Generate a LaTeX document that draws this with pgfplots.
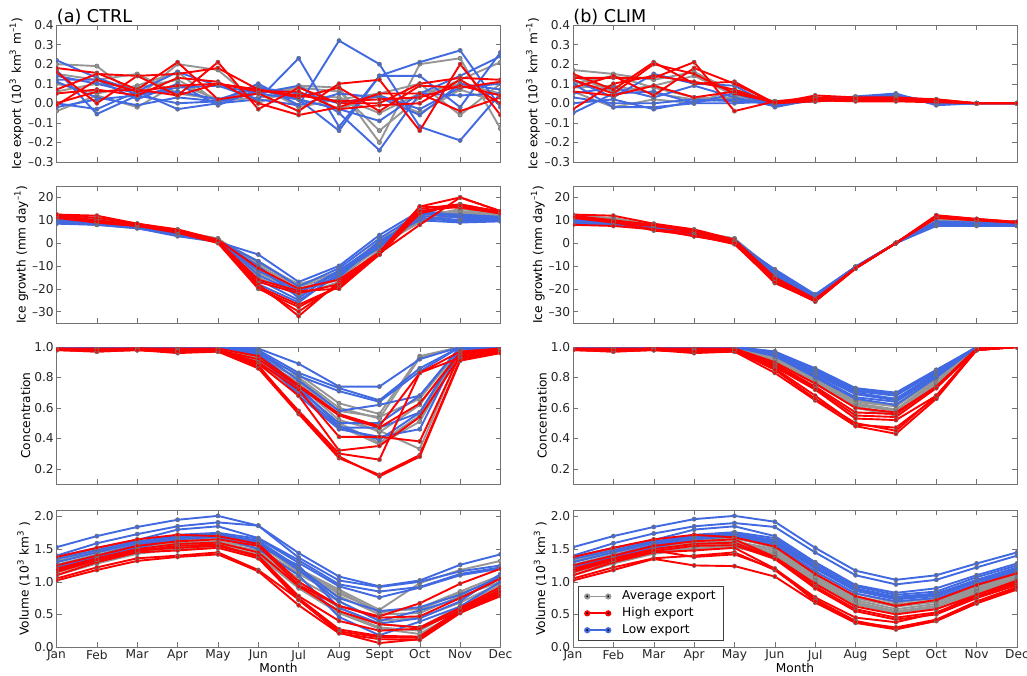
\documentclass[border=0pt]{standalone}
\usepackage{fontspec}
\setmainfont{DejaVu Sans}
\usepackage{pgfplots}
\pgfplotsset{compat=1.18}
\definecolor{avgc}{RGB}{150,150,150}
\definecolor{hic}{RGB}{255,0,0}
\definecolor{loc}{RGB}{65,105,225}
\newcount\mlc
\newcommand\ml[2]{%
  \def\acc{}\mlc=0
  \pgfplotsforeachungrouped \mlv in {#2}{\edef\acc{\acc(\the\mlc,\mlv)}\advance\mlc by 1 }%
  \edef\tmp{\noexpand\addplot[#1,forget plot] coordinates {\acc};}\tmp}
\newcommand\fs{\fontsize{6.1}{7.3}\selectfont}
\pgfplotsset{
  gr/.style={draw=avgc, line width=0.95pt, mark=*, mark size=1.05pt, mark options={fill=avgc, draw=black!55, line width=0.3pt, solid}},
  rd/.style={draw=hic, line width=0.95pt, mark=*, mark size=1.05pt, mark options={fill=hic, draw=black!55, line width=0.3pt, solid}},
  bl/.style={draw=loc, line width=0.95pt, mark=*, mark size=1.05pt, mark options={fill=loc, draw=black!55, line width=0.3pt, solid}},
  base/.style={scale only axis, width=222pt, height=68.5pt, xmin=0, xmax=11,
    xtick={0,1,2,3,4,5,6,7,8,9,10,11}, xticklabels={},
    ticklabel style={font=\fs, text=black!85},
    yticklabel style={inner xsep=1.2pt},
    xticklabel style={inner ysep=1.2pt},
    label style={font=\fs},
    ylabel style={inner sep=0.6pt},
    axis line style={black!55}, tick style={black!55}, major tick length=2.5pt,
    clip marker paths=true},
  r1/.style={base, ymin=-0.3, ymax=0.4, ytick={-0.3,-0.2,-0.1,0,0.1,0.2,0.3,0.4},
    yticklabels={–0.3,–0.2,–0.1,0.0,0.1,0.2,0.3,0.4},
    ylabel={Ice export (10\textsuperscript{3} km\textsuperscript{3} m\textsuperscript{–1})},
    ylabel style={inner sep=1pt}},
  r2/.style={base, ymin=-35, ymax=25, ytick={-30,-20,-10,0,10,20},
    yticklabels={–30,–20,–10,0,10,20}, ylabel={Ice growth (mm day\textsuperscript{–1})}},
  r3/.style={base, ymin=0.1, ymax=1.0, ytick={0.2,0.4,0.6,0.8,1.0},
    yticklabels={0.2,0.4,0.6,0.8,1.0}, ylabel={Concentration}},
  r4/.style={base, ymin=0, ymax=2.1, ytick={0,0.5,1,1.5,2},
    yticklabels={0.0,0.5,1.0,1.5,2.0}, ylabel={Volume (10\textsuperscript{3}  km\textsuperscript{3} )},
    xticklabels={Jan,Feb,Mar,Apr,May,Jun,Jul,Aug,Sept,Oct,Nov,Dec}, xlabel={Month},
    xlabel style={inner sep=0.5pt, yshift=0.9pt}},
}
\begin{document}
\begin{tikzpicture}
% ---------- (a) CTRL : ice export ----------
\begin{axis}[r1, at={(28.25pt,256.5pt)}, anchor=south west, name=a1]
\ml{gr}{0.20,0.19,0.03,0.20,0.17,0.00,0.09,0.08,-0.20,0.20,0.23,-0.13}
\ml{gr}{0.15,0.12,0.15,0.05,0.02,0.06,0.08,0.06,-0.14,0.03,0.12,0.21}
\ml{gr}{0.10,0.05,0.09,0.16,0.00,0.09,-0.02,0.02,0.05,0.10,-0.06,0.10}
\ml{gr}{-0.04,0.04,-0.02,0.10,0.02,0.05,0.02,-0.03,0.04,-0.05,0.07,0.00}
\ml{gr}{0.06,0.10,0.08,0.12,0.01,0.03,0.04,0.03,-0.05,0.05,0.10,0.05}
\ml{bl}{0.22,0.13,0.06,0.16,0.09,0.02,0.23,-0.12,0.14,0.14,-0.02,0.26}
\ml{bl}{0.17,-0.055,0.04,0.00,0.01,0.10,-0.01,0.32,0.20,-0.12,-0.19,0.05}
\ml{bl}{0.12,0.12,0.02,0.10,-0.01,0.07,0.02,-0.14,0.14,0.21,0.27,-0.02}
\ml{bl}{0.11,0.03,-0.01,0.03,0.01,0.05,0.09,-0.05,-0.24,0.05,0.14,0.24}
\ml{bl}{0.00,-0.03,0.06,-0.03,0.00,0.02,-0.01,0.05,0.03,-0.06,0.10,0.07}
\ml{bl}{-0.02,0.02,0.04,0.08,0.09,0.05,0.02,-0.03,-0.09,0.05,0.04,0.05}
\ml{bl}{0.14,0.10,0.05,0.06,0.02,0.08,0.05,0.00,0.04,-0.03,0.08,0.10}
\ml{rd}{0.18,0.155,0.07,0.21,0.02,0.05,-0.04,0.10,0.12,-0.14,0.20,-0.06}
\ml{rd}{0.16,0.00,0.14,0.04,0.21,-0.03,0.08,0.00,0.00,0.10,0.13,0.12}
\ml{rd}{0.07,0.15,0.14,0.15,0.18,0.07,0.03,0.08,-0.04,0.09,0.08,0.11}
\ml{rd}{0.05,0.07,0.04,0.13,0.11,0.00,-0.06,-0.02,0.05,0.05,-0.04,0.03}
\ml{rd}{0.00,0.06,0.07,0.04,0.10,0.06,0.06,-0.03,-0.01,0.00,0.12,0.00}
\ml{rd}{-0.01,0.12,0.06,0.09,0.10,0.07,0.04,0.01,0.02,0.03,0.09,0.04}
\end{axis}
\node[anchor=base west, inner sep=0pt, font=\fontsize{8.8}{10}\selectfont] at ([yshift=1.4pt]a1.north west) {(a) CTRL};
% ---------- (b) CLIM : ice export ----------
\begin{axis}[r1, at={(286.5pt,256.5pt)}, anchor=south west, name=b1]
\ml{gr}{0.17,0.15,0.12,0.16,0.06,0.01,0.02,0.03,0.04,0.01,0.0,0.0}
\ml{gr}{0.10,0.14,0.08,0.03,0.02,0.00,0.025,0.03,0.035,0.00,0.0,0.0}
\ml{gr}{0.06,-0.02,0.02,0.00,0.07,0.005,0.015,0.02,0.03,0.005,0.0,0.0}
\ml{gr}{0.14,0.06,0.09,0.14,0.04,0.00,0.02,0.025,0.025,0.01,0.0,0.0}
\ml{gr}{0.08,0.09,0.05,0.02,0.03,-0.005,0.01,0.02,0.03,0.00,0.0,0.0}
\ml{bl}{0.12,0.03,0.15,0.10,0.09,-0.02,0.02,0.03,0.045,0.00,0.0,0.0}
\ml{bl}{-0.05,0.05,0.06,0.00,0.05,-0.01,0.015,0.035,0.05,-0.01,0.0,0.0}
\ml{bl}{0.03,0.00,0.00,0.02,0.01,0.00,0.02,0.025,0.04,0.00,0.0,0.0}
\ml{bl}{0.10,-0.02,-0.02,0.00,0.00,0.01,0.01,0.02,0.03,0.005,0.0,0.0}
\ml{bl}{0.05,0.08,0.03,0.09,0.03,-0.015,0.02,0.03,0.035,-0.005,0.0,0.0}
\ml{bl}{0.00,0.02,-0.03,0.01,0.02,0.005,0.015,0.02,0.025,0.00,0.0,0.0}
\ml{rd}{0.15,0.07,0.21,0.10,0.11,0.00,0.04,0.03,0.03,0.02,0.0,0.0}
\ml{rd}{0.13,0.13,0.13,0.21,-0.04,0.01,0.03,0.02,0.02,0.015,0.0,0.0}
\ml{rd}{0.08,0.14,0.04,0.18,0.10,0.00,0.02,0.015,0.015,0.01,0.0,0.0}
\ml{rd}{0.12,0.05,0.20,0.15,0.05,0.005,0.015,0.01,0.01,0.005,0.0,0.0}
\ml{rd}{-0.03,0.10,0.14,0.11,0.07,0.00,0.01,0.02,0.025,0.01,0.0,0.0}
\ml{rd}{0.06,0.04,0.09,0.03,0.06,0.005,0.02,0.025,0.02,0.02,0.0,0.0}
\end{axis}
\node[anchor=base west, inner sep=0pt, font=\fontsize{8.8}{10}\selectfont] at ([yshift=1.4pt]b1.north west) {(b) CLIM};
% ---------- (a) ice growth ----------
\begin{axis}[r2, at={(28.25pt,176pt)}, anchor=south west]
\ml{gr}{11,10,7.5,4.5,1.5,-9,-18,-13,1,12,14,12.5}
\ml{gr}{11.5,10.5,8,5,2,-12,-20,-15,-2,10,13,12}
\ml{gr}{10.5,10,7.5,4.5,1.5,-15,-23,-17,-3,11,15,13}
\ml{gr}{12,11,8,5,2,-10,-19,-14,0,13,14,12.5}
\ml{gr}{10,9.5,7,4,1,-13,-21,-16,-1,9,12.5,11.5}
\ml{gr}{11,10.5,8,5,1.5,-8,-18.5,-12.5,0.5,11.5,13.5,12}
\ml{bl}{9,8,6.5,3,0.5,-5,-17,-10,3.5,14,12,11}
\ml{bl}{9.5,8.5,7,3.5,1,-8,-19,-11,2,13,11,10}
\ml{bl}{10,9,7,4,1.5,-14,-22,-12,0,12,10,10.5}
\ml{bl}{10.5,9,7.5,4.5,1,-16,-25,-14,-1,11,9.5,10}
\ml{bl}{11,9.5,8,5,1.5,-18,-26,-13,-2,13,12.5,11.5}
\ml{bl}{8.5,8,6.5,3.5,0.5,-12,-21,-15,1,10,9,9.5}
\ml{bl}{9.5,8.5,7,4,1,-10,-24,-12,-1.5,14.5,11.5,10.5}
\ml{rd}{12.5,12,8.5,6,1.5,-11,-20,-16,-4,16,20,14}
\ml{rd}{12,9.5,8,5.5,1,-17,-22,-18,-5,15,17,13.5}
\ml{rd}{11.5,9,7.5,5,0.5,-19,-27,-19,-5,14,16,13}
\ml{rd}{11,9,7.5,4.5,0,-20,-28,-19,-4.5,8,20,14}
\ml{rd}{12,10,8,5.5,0.5,-18,-32,-17,-5,13,17,13.5}
\ml{rd}{11.5,9.5,8,5,0.5,-19.5,-30,-18,-4,16,15.5,13}
\ml{rd}{12.5,11,8.5,5.5,1,-16,-21,-20,-5,14,16.5,14}
\end{axis}
% ---------- (b) ice growth ----------
\begin{axis}[r2, at={(286.5pt,176pt)}, anchor=south west]
\ml{gr}{11,10,7.5,4.5,1.5,-12,-23.5,-10.6,0,10,9.2,8.5}
\ml{gr}{11.5,10.5,8,5,2,-12.5,-23.8,-10.7,0,10.2,9.4,8.6}
\ml{gr}{10.5,10,7.5,4.5,1.5,-13,-24,-10.8,0,10.4,9.6,8.7}
\ml{gr}{12,11,8,5,2,-14,-24.2,-10.8,0,10.6,9.8,8.8}
\ml{gr}{10,9.5,7,4,1,-13.5,-24,-10.7,0,10.3,9.5,8.7}
\ml{gr}{11,10.5,8,5,1.5,-12.2,-23.6,-10.6,0,10.1,9.3,8.6}
\ml{bl}{9,8,6.5,3,0.5,-11.5,-22.5,-10.3,0,7.5,7.5,7.5}
\ml{bl}{9.5,8.5,7,3.5,1,-12,-22.8,-10.4,0,8,8,7.8}
\ml{bl}{10,9,7,4,1.5,-13,-23,-10.5,0,8.5,8.2,8}
\ml{bl}{10.5,9,7.5,4.5,1,-14,-23.2,-10.6,0,9,8.5,8.2}
\ml{bl}{11,9.5,8,5,1.5,-12.5,-22.7,-10.4,0,9.2,8.7,8.3}
\ml{bl}{8.5,8,6.5,3.5,0.5,-13.5,-23.4,-10.6,0,8.7,8.3,8.1}
\ml{bl}{9.5,8.5,7,4,1,-14.5,-23.5,-10.7,0,9.5,9,8.4}
\ml{rd}{12.5,12,8.5,6,1.5,-15,-24.5,-10.9,0,12,10.5,9.2}
\ml{rd}{12,9.5,8,5.5,1,-16,-25,-11,0,11.8,10.3,9.1}
\ml{rd}{11.5,9,7.5,5,0.5,-17,-25.5,-11.1,0,11.5,10.2,9}
\ml{rd}{11,9,6,4.5,0,-17.5,-25.3,-11,0,11.2,10,9}
\ml{rd}{12,10,8,5.5,0.5,-16.5,-25,-11,0,11.6,10.4,9.1}
\ml{rd}{11.5,9.5,5.5,3.5,-0.5,-17,-25.6,-11.2,0,11,10,8.9}
\ml{rd}{8,7.5,6,3,0,-15.5,-24.8,-10.9,0,12.2,10.6,9.3}
\end{axis}
% ---------- (a) concentration ----------
\begin{axis}[r3, at={(28.25pt,95.5pt)}, anchor=south west]
\ml{gr}{1,1,1,1,1,0.95,0.82,0.63,0.56,0.94,1.0,1.0}
\ml{gr}{1,1,1,1,1,0.94,0.79,0.58,0.54,0.66,0.99,0.99}
\ml{gr}{1,1,1,1,1,0.92,0.77,0.56,0.44,0.62,0.98,0.99}
\ml{gr}{1,1,1,1,1,0.91,0.72,0.50,0.37,0.55,0.98,0.98}
\ml{gr}{1,1,1,1,1,0.90,0.70,0.48,0.36,0.51,0.97,0.98}
\ml{gr}{1,1,1,1,1,0.93,0.75,0.52,0.45,0.33,0.96,0.98}
\ml{gr}{1,1,1,1,1,0.92,0.80,0.60,0.53,0.93,1.0,1.0}
\ml{bl}{1,1,1,1,1,0.99,0.89,0.74,0.74,0.92,1.0,1.0}
\ml{bl}{1,1,1,1,1,0.98,0.83,0.73,0.65,0.86,1.0,1.0}
\ml{bl}{1,1,1,1,1,0.97,0.81,0.71,0.64,0.84,1.0,1.0}
\ml{bl}{1,1,1,1,1,0.97,0.78,0.58,0.62,0.68,1.0,0.99}
\ml{bl}{1,1,1,1,1,0.96,0.72,0.50,0.50,0.68,1.0,0.99}
\ml{bl}{1,1,1,1,1,0.96,0.70,0.47,0.47,0.57,0.99,0.99}
\ml{bl}{1,1,1,1,1,0.95,0.68,0.46,0.41,0.46,0.99,0.98}
\ml{bl}{1,1,1,1,1,0.96,0.74,0.48,0.39,0.57,0.99,0.99}
\ml{rd}{0.99,0.99,0.99,0.99,0.99,0.94,0.75,0.56,0.48,0.83,0.97,0.99}
\ml{rd}{0.99,0.98,0.99,0.98,0.98,0.92,0.74,0.55,0.47,0.63,0.96,0.98}
\ml{rd}{0.98,0.98,0.99,0.98,0.98,0.90,0.72,0.41,0.41,0.38,0.95,0.98}
\ml{rd}{0.98,0.98,0.98,0.97,0.98,0.89,0.68,0.32,0.35,0.54,0.94,0.97}
\ml{rd}{0.98,0.97,0.98,0.96,0.97,0.87,0.58,0.30,0.26,0.83,0.93,0.97}
\ml{rd}{0.98,0.97,0.98,0.97,0.97,0.86,0.56,0.27,0.16,0.29,0.92,0.97}
\ml{rd}{0.98,0.98,0.98,0.97,0.98,0.88,0.57,0.28,0.15,0.28,0.91,0.96}
\end{axis}
% ---------- (b) concentration ----------
\begin{axis}[r3, at={(286.5pt,95.5pt)}, anchor=south west]
\ml{gr}{1,1,1,1,1,0.94,0.80,0.65,0.62,0.80,1.0,1.0}
\ml{gr}{1,1,1,1,1,0.93,0.79,0.64,0.61,0.79,1.0,1.0}
\ml{gr}{1,1,1,1,1,0.92,0.78,0.63,0.59,0.78,1.0,1.0}
\ml{gr}{1,1,1,1,1,0.92,0.77,0.62,0.58,0.77,1.0,1.0}
\ml{gr}{1,1,1,1,1,0.91,0.76,0.61,0.56,0.76,1.0,1.0}
\ml{gr}{1,1,1,1,1,0.91,0.76,0.60,0.55,0.75,1.0,1.0}
\ml{bl}{1,1,1,1,1,0.97,0.86,0.73,0.70,0.85,1.0,1.0}
\ml{bl}{1,1,1,1,1,0.97,0.85,0.72,0.69,0.84,1.0,1.0}
\ml{bl}{1,1,1,1,1,0.96,0.84,0.71,0.68,0.84,1.0,1.0}
\ml{bl}{1,1,1,1,1,0.96,0.83,0.70,0.66,0.83,1.0,1.0}
\ml{bl}{1,1,1,1,1,0.95,0.82,0.69,0.65,0.82,1.0,1.0}
\ml{bl}{1,1,1,1,1,0.95,0.81,0.67,0.64,0.81,1.0,1.0}
\ml{bl}{1,1,1,1,1,0.94,0.80,0.66,0.62,0.80,1.0,1.0}
\ml{rd}{0.99,0.99,0.99,0.99,0.99,0.90,0.76,0.60,0.57,0.74,0.99,1.0}
\ml{rd}{0.99,0.98,0.99,0.98,0.98,0.89,0.74,0.57,0.56,0.74,0.99,1.0}
\ml{rd}{0.98,0.98,0.99,0.98,0.98,0.88,0.73,0.55,0.54,0.73,0.98,1.0}
\ml{rd}{0.98,0.98,0.98,0.97,0.98,0.87,0.72,0.53,0.52,0.68,0.98,1.0}
\ml{rd}{0.98,0.97,0.98,0.96,0.97,0.86,0.68,0.49,0.47,0.67,0.98,1.0}
\ml{rd}{0.98,0.97,0.98,0.97,0.97,0.83,0.65,0.48,0.43,0.66,0.98,1.0}
\ml{rd}{0.98,0.98,0.98,0.97,0.98,0.85,0.66,0.50,0.45,0.68,0.98,1.0}
\end{axis}
% ---------- (a) volume ----------
\begin{axis}[r4, at={(28.25pt,14pt)}, anchor=south west]
\ml{gr}{1.36,1.50,1.60,1.68,1.70,1.62,1.20,0.88,0.57,0.98,1.18,1.32}
\ml{gr}{1.30,1.45,1.55,1.63,1.66,1.58,1.15,0.82,0.55,0.58,0.82,1.05}
\ml{gr}{1.26,1.42,1.52,1.60,1.62,1.52,1.12,0.78,0.50,0.52,0.78,1.00}
\ml{gr}{1.22,1.38,1.50,1.57,1.60,1.48,1.05,0.70,0.40,0.45,0.68,0.98}
\ml{gr}{1.18,1.35,1.48,1.55,1.58,1.45,1.00,0.60,0.35,0.30,0.62,0.95}
\ml{gr}{1.14,1.32,1.45,1.52,1.55,1.42,0.95,0.55,0.30,0.25,0.60,0.92}
\ml{gr}{1.10,1.28,1.43,1.50,1.53,1.40,0.90,0.52,0.28,0.20,0.55,0.90}
\ml{gr}{1.32,1.47,1.58,1.65,1.68,1.56,1.18,0.85,0.53,0.60,0.85,1.10}
\ml{bl}{1.53,1.70,1.84,1.95,2.01,1.86,1.44,1.08,0.93,1.02,1.26,1.42}
\ml{bl}{1.40,1.59,1.73,1.85,1.91,1.86,1.37,1.02,0.92,1.00,1.16,1.25}
\ml{bl}{1.38,1.52,1.64,1.80,1.85,1.67,1.33,0.96,0.85,0.92,1.12,1.22}
\ml{bl}{1.30,1.45,1.60,1.72,1.75,1.66,1.29,0.93,0.76,0.91,1.10,1.20}
\ml{bl}{1.25,1.40,1.57,1.70,1.73,1.63,1.22,0.75,0.55,0.61,0.80,1.08}
\ml{bl}{1.22,1.38,1.55,1.68,1.71,1.60,1.18,0.70,0.40,0.56,0.75,1.05}
\ml{bl}{1.18,1.36,1.52,1.65,1.69,1.50,1.10,0.46,0.18,0.39,0.62,1.00}
\ml{bl}{1.35,1.48,1.62,1.70,1.72,1.55,1.25,0.60,0.36,0.44,0.70,1.12}
\ml{rd}{1.38,1.52,1.65,1.72,1.70,1.58,1.00,0.63,0.47,0.67,0.97,1.20}
\ml{rd}{1.25,1.40,1.55,1.62,1.65,1.55,0.95,0.63,0.45,0.47,0.75,1.05}
\ml{rd}{1.20,1.36,1.50,1.58,1.60,1.45,0.93,0.55,0.35,0.30,0.60,0.92}
\ml{rd}{1.15,1.33,1.47,1.55,1.57,1.38,0.75,0.27,0.17,0.16,0.58,0.88}
\ml{rd}{1.10,1.30,1.45,1.48,1.52,1.36,0.72,0.24,0.15,0.14,0.55,0.82}
\ml{rd}{1.05,1.22,1.36,1.40,1.45,1.18,0.73,0.22,0.06,0.12,0.53,0.78}
\ml{rd}{1.02,1.18,1.32,1.38,1.42,1.16,0.64,0.21,0.12,0.11,0.52,0.80}
\ml{rd}{1.18,1.34,1.48,1.52,1.55,1.40,0.78,0.40,0.25,0.28,0.56,0.85}
\end{axis}
% ---------- (b) volume ----------
\begin{axis}[r4, at={(286.5pt,14pt)}, anchor=south west,
  legend style={at={(0.011,0.044)}, anchor=south west, font=\fs, draw=black!75,
    inner xsep=2pt, inner ysep=1pt, row sep=0pt, nodes={inner ysep=1.2pt}},
  legend cell align=left,
  legend image code/.code={\draw[#1, mark options={draw=none}] plot coordinates {(2pt,0pt) (12.5pt,0pt)}; \path (0pt,0pt) (17pt,0pt);}]
\addlegendimage{gr}\addlegendentry{Average export}
\addlegendimage{rd}\addlegendentry{High export}
\addlegendimage{bl}\addlegendentry{Low export}
\ml{gr}{1.36,1.50,1.60,1.68,1.70,1.58,1.15,0.82,0.68,0.75,0.96,1.15}
\ml{gr}{1.30,1.45,1.55,1.63,1.66,1.55,1.10,0.78,0.65,0.72,0.93,1.12}
\ml{gr}{1.26,1.42,1.52,1.60,1.62,1.50,1.07,0.75,0.62,0.69,0.90,1.10}
\ml{gr}{1.22,1.38,1.50,1.57,1.60,1.47,1.04,0.72,0.58,0.66,0.88,1.07}
\ml{gr}{1.18,1.35,1.48,1.55,1.58,1.44,1.01,0.69,0.55,0.63,0.86,1.05}
\ml{gr}{1.14,1.32,1.45,1.52,1.55,1.42,0.98,0.67,0.53,0.62,0.85,1.03}
\ml{gr}{1.10,1.28,1.43,1.50,1.53,1.40,0.96,0.65,0.52,0.60,0.83,1.02}
\ml{gr}{1.32,1.47,1.58,1.65,1.68,1.52,1.08,0.76,0.63,0.70,0.91,1.11}
\ml{bl}{1.53,1.70,1.84,1.96,2.01,1.92,1.52,1.17,1.03,1.10,1.28,1.45}
\ml{bl}{1.40,1.59,1.74,1.85,1.90,1.84,1.45,1.10,0.96,1.03,1.22,1.40}
\ml{bl}{1.38,1.52,1.64,1.80,1.85,1.70,1.30,0.95,0.83,0.90,1.10,1.28}
\ml{bl}{1.30,1.45,1.60,1.72,1.76,1.67,1.27,0.93,0.80,0.85,1.07,1.25}
\ml{bl}{1.25,1.40,1.57,1.70,1.74,1.64,1.24,0.90,0.77,0.82,1.03,1.22}
\ml{bl}{1.22,1.38,1.55,1.68,1.72,1.60,1.20,0.86,0.73,0.78,1.00,1.18}
\ml{bl}{1.18,1.36,1.52,1.65,1.70,1.57,1.16,0.82,0.70,0.75,0.97,1.16}
\ml{bl}{1.35,1.48,1.62,1.70,1.72,1.62,1.22,0.88,0.75,0.80,1.02,1.20}
\ml{rd}{1.38,1.52,1.65,1.72,1.68,1.54,1.12,0.78,0.63,0.72,0.95,1.13}
\ml{rd}{1.25,1.40,1.55,1.62,1.65,1.38,0.97,0.62,0.50,0.58,0.80,1.02}
\ml{rd}{1.20,1.36,1.50,1.58,1.60,1.36,0.93,0.58,0.45,0.53,0.77,0.98}
\ml{rd}{1.15,1.33,1.47,1.55,1.56,1.35,0.90,0.55,0.42,0.50,0.75,0.95}
\ml{rd}{1.10,1.30,1.45,1.48,1.52,1.20,0.76,0.45,0.38,0.52,0.80,1.00}
\ml{rd}{1.05,1.22,1.36,1.40,1.45,1.18,0.73,0.40,0.28,0.40,0.67,0.88}
\ml{rd}{1.02,1.18,1.35,1.25,1.24,1.08,0.68,0.37,0.27,0.40,0.67,0.90}
\ml{rd}{1.18,1.34,1.48,1.38,1.42,1.20,0.70,0.38,0.30,0.42,0.70,0.92}
\end{axis}
\pgfresetboundingbox
\useasboundingbox (0,0) rectangle (513.5pt,337.5pt);
\end{tikzpicture}
\end{document}
